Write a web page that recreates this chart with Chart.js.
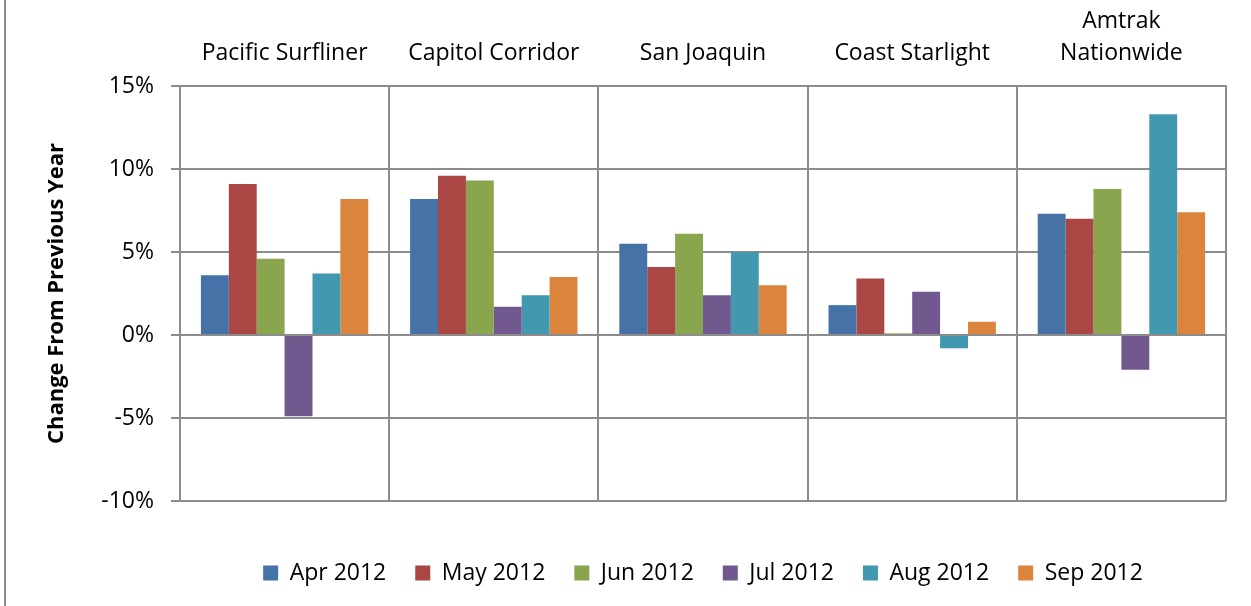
<!DOCTYPE html>
<html>
<head>
<meta charset="utf-8">
<script src="https://cdn.jsdelivr.net/npm/chart.js@4.4.1/dist/chart.umd.min.js"></script>
<style>
  html, body { margin: 0; padding: 0; background: #fff; }
</style>
</head>
<body>
<canvas id="myChart" width="1251" height="606"></canvas>
<script>
const routes = ['Pacific Surfliner', 'Capitol Corridor', 'San Joaquin', 'Coast Starlight', ['Amtrak', 'Nationwide']];
const months = ['Apr 2012', 'May 2012', 'Jun 2012', 'Jul 2012', 'Aug 2012', 'Sep 2012'];
const colors = ['#4572A7', '#AA4643', '#89A54E', '#71588F', '#4198AF', '#DB843D'];

// % change from previous year, per route
const apr2012 = [3.6, 8.2, 5.5, 1.8, 7.3];
const may2012 = [9.1, 9.6, 4.1, 3.4, 7.0];
const jun2012 = [4.6, 9.3, 6.1, 0.1, 8.8];
const jul2012 = [-4.9, 1.7, 2.4, 2.6, -2.1];
const aug2012 = [3.7, 2.4, 5.0, -0.8, 13.3];
const sep2012 = [8.2, 3.5, 3.0, 0.8, 7.4];

const yTicks = { min: -10, max: 15, step: 5 };

const series = [apr2012, may2012, jun2012, jul2012, aug2012, sep2012];
const fontFamily = "'Open Sans', sans-serif";
const gridColor = '#8c8c8c';

const frameLine = {
  id: 'frameLine',
  beforeDraw(chart) {
    const c = chart.ctx;
    c.save();
    c.strokeStyle = gridColor;
    c.lineWidth = 2;
    c.beginPath();
    c.moveTo(5, 0);
    c.lineTo(5, chart.height);
    c.stroke();
    c.restore();
  }
};

const chartData = {
  labels: routes,
  datasets: series.map((d, i) => ({
    label: months[i],
    data: d,
    backgroundColor: colors[i],
    borderWidth: 0,
    categoryPercentage: 0.8,
    barPercentage: 1.0
  }))
};

const chartOptions = {
  responsive: false,
  animation: false,
  layout: { padding: { left: 44, right: 25, top: 4, bottom: 11.5 } },
  plugins: {
    tooltip: { enabled: false },
    legend: {
      position: 'bottom',
      fullSize: false,
      title: { display: true, text: '', font: { size: 31.5, lineHeight: 1 }, padding: 0 },
      labels: {
        boxWidth: 15,
        boxHeight: 15,
        padding: 29,
        color: '#000',
        font: { family: fontFamily, size: 23 }
      }
    }
  },
  scales: {
    x: {
      position: 'top',
      grid: { offset: true, color: gridColor, lineWidth: 2, drawTicks: false },
      border: { color: gridColor, width: 2 },
      ticks: { color: '#000', font: { family: fontFamily, size: 23, lineHeight: 1.39 }, padding: 17, maxRotation: 0 },
      afterFit(scale) { scale.height = 82; }
    },
    y: {
      min: yTicks.min,
      max: yTicks.max,
      ticks: {
        stepSize: yTicks.step,
        color: '#000',
        padding: 17,
        font: { family: fontFamily, size: 23 },
        callback: v => v + '%'
      },
      grid: { color: gridColor, lineWidth: 2, tickLength: 9 },
      border: { color: gridColor, width: 2 },
      title: {
        display: true,
        text: 'Change From Previous Year',
        color: '#000',
        padding: 0,
        font: { family: fontFamily, size: 22, weight: 'bold' }
      },
      afterFit(scale) { scale.width = 136; }
    }
  }
};

const ctx = document.getElementById('myChart').getContext('2d');
const myChart = new Chart(ctx, {
  type: 'bar',
  data: chartData,
  options: chartOptions,
  plugins: [frameLine]
});
</script>
</body>
</html>
